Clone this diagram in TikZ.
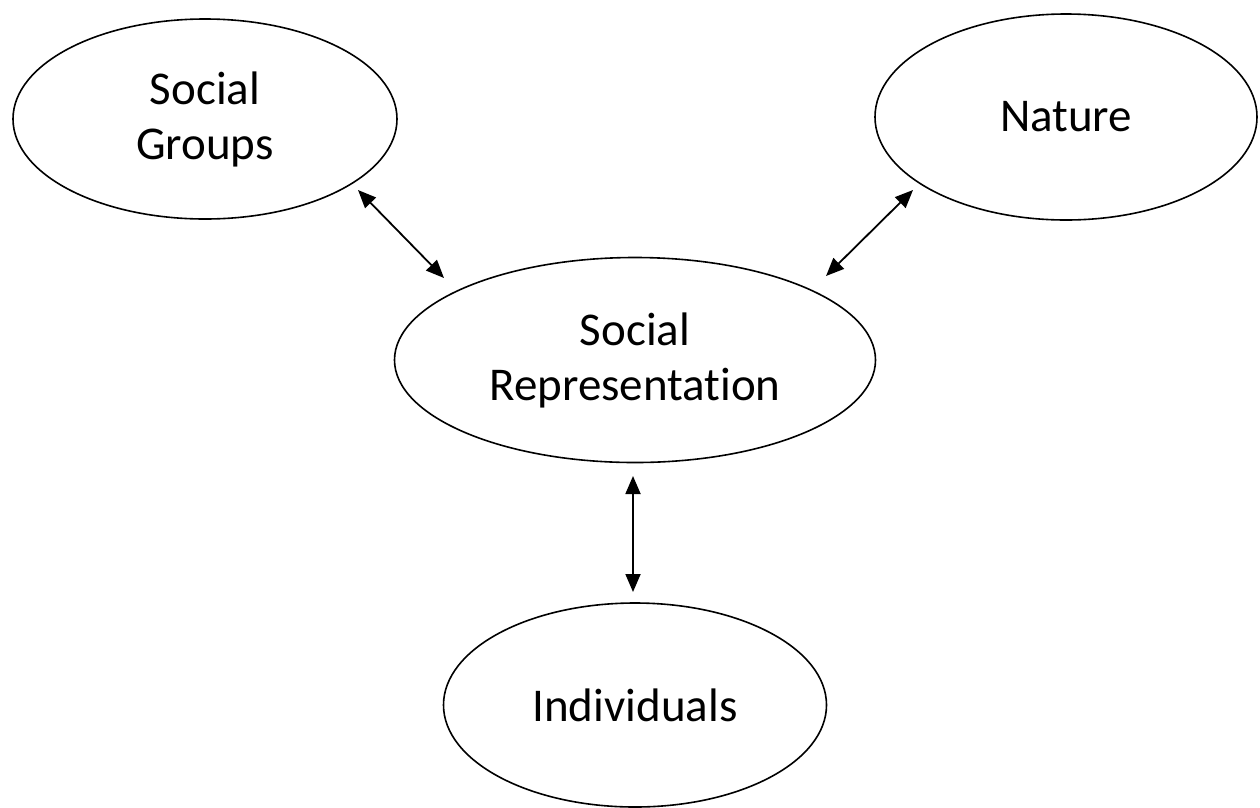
\documentclass[tikz,border=0pt]{standalone}
\usepackage{fontspec}
\setmainfont[Ligatures=NoCommon]{Carlito}
\usetikzlibrary{shapes.geometric,arrows.meta}
\begin{document}
\begin{tikzpicture}[x=1pt,y=-1pt,
  oval/.style={ellipse,draw=black,line width=1.6pt,inner sep=0pt,align=center,
    font=\fontsize{47}{55}\selectfont},
  link/.style={line width=1.8pt,{Triangle[length=18pt,width=15pt]}-{Triangle[length=18pt,width=15pt]}}]
\useasboundingbox (0,0) rectangle (1260,807);
\node[oval,minimum width=384pt,minimum height=200pt] (sg) at (205,119) {Social\\Groups};
\node[oval,minimum width=382pt,minimum height=206pt] (na) at (1066,117) {Nature};
\node[oval,minimum width=481pt,minimum height=205pt] (sr) at (635,360) {Social\\Representation};
\node[oval,minimum width=383pt,minimum height=204pt] (in) at (635,705) {Individuals};
\coordinate (a1) at (358,190);
\coordinate (a2) at (444,278);
\coordinate (b1) at (913,190);
\coordinate (b2) at (826,276);
\coordinate (c1) at (633,476);
\coordinate (c2) at (633,592);
\draw[link] (a1) -- (a2);
\draw[link] (b1) -- (b2);
\draw[link] (c1) -- (c2);
\end{tikzpicture}
\end{document}
